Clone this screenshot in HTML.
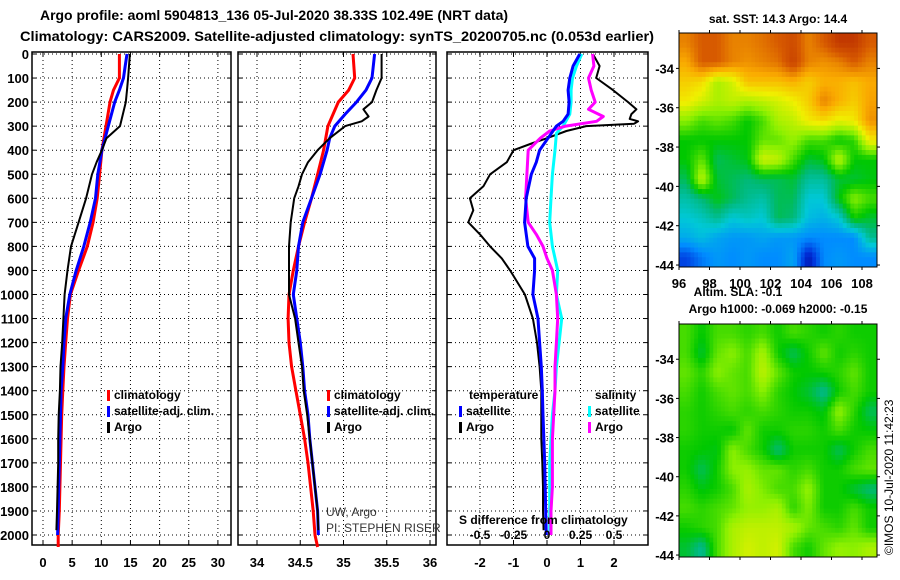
<!DOCTYPE html>
<html><head><meta charset="utf-8"><style>
html,body{margin:0;padding:0;background:#fff}
svg{display:block;font-family:"Liberation Sans",sans-serif}
</style></head><body>
<svg id="c" width="900" height="580" viewBox="0 0 900 580">
<text x="274" y="20" text-anchor="middle" font-size="14" font-weight="bold" textLength="468" lengthAdjust="spacingAndGlyphs">Argo profile: aoml 5904813_136 05-Jul-2020 38.33S 102.49E (NRT data)</text>
<text x="337" y="41" text-anchor="middle" font-size="14" font-weight="bold" textLength="634" lengthAdjust="spacingAndGlyphs">Climatology: CARS2009. Satellite-adjusted climatology: synTS_20200705.nc (0.053d earlier)</text>
<g id="g"></g>
</svg>
<script>
// ---- data ----
const depT = [0,100,150,200,300,400,500,600,700,800,900,1000,1100,1200,1300,1400,1500,1600,1700,1800,1900,2000,2050];
const tClim = [13.1,13.1,12.1,11.5,10.8,10.1,9.7,9.3,8.6,7.6,6.1,4.7,4.2,3.9,3.6,3.4,3.2,3.1,3.0,2.9,2.8,2.6,2.6];
const depTs = [0,50,100,150,200,300,400,500,600,700,800,900,1000,1100,1200,1300,1400,1500,1600,1700,1800,1900,2000];
const tSat = [14.4,14.1,13.8,13.1,12.3,11.2,10.1,9.4,9.0,8.1,7.0,5.7,4.6,3.9,3.6,3.4,3.1,3.0,2.9,2.8,2.7,2.6,2.5];
const depTa = [0,100,150,200,250,300,350,400,450,500,600,700,800,900,1000,1100,1200,1300,1400,1500,1600,1700,1800,1900,1980];
const tArgo = [14.9,14.6,14.4,14.2,13.7,13.2,10.9,10.1,9.2,8.4,7.4,6.1,4.8,4.2,3.7,3.5,3.3,3.0,2.9,2.7,2.6,2.6,2.5,2.4,2.3];

const depS = [0,100,150,200,300,400,500,600,700,800,900,1000,1100,1200,1300,1400,1500,1600,1700,1800,1900,2000,2050];
const sClim = [35.11,35.13,35.06,34.94,34.82,34.77,34.70,34.63,34.55,34.48,34.42,34.37,34.36,34.37,34.40,34.45,34.50,34.55,34.59,34.62,34.65,34.67,34.70];
const depSs = [0,100,150,200,250,300,350,400,500,600,700,800,900,1000,1100,1200,1300,1400,1500,1600,1700,1800,1900,2000];
const sSat = [35.36,35.33,35.26,35.15,35.02,34.90,34.84,34.81,34.73,34.63,34.53,34.48,34.46,34.42,34.46,34.50,34.53,34.55,34.59,34.61,34.64,34.67,34.70,34.71];
const depSa = [0,100,150,200,230,260,280,300,350,400,450,500,550,600,700,800,900,1000,1100,1200,1300,1400,1500,1600,1700,1800,1900,1980];
const sArgo = [35.44,35.44,35.38,35.33,35.23,35.29,35.21,35.02,34.84,34.70,34.59,34.52,34.48,34.43,34.39,34.37,34.37,34.37,34.44,34.48,34.52,34.54,34.58,34.61,34.64,34.67,34.70,34.71];

const depDa = [0,50,100,150,200,230,250,270,280,290,300,320,350,370,400,450,500,550,600,650,700,750,800,850,900,1000,1100,1200,1300,1400,1500,1600,1700,1800,1900,1980];
const dTArgo = [1.37,1.57,1.47,1.97,2.42,2.67,2.52,2.47,2.72,2.6,1.17,0.58,0,-0.42,-1.0,-1.2,-1.7,-1.9,-2.3,-2.2,-2.35,-2.0,-1.7,-1.35,-1.1,-0.66,-0.42,-0.3,-0.22,-0.17,-0.17,-0.17,-0.14,-0.12,-0.12,-0.1];
const depDs = [0,50,100,150,200,250,280,300,350,400,450,500,600,700,800,850,900,1000,1100,1200,1300,1400,1500,1700,1900,2000];
const dTSat = [0.98,0.78,0.68,0.63,0.66,0.63,0.48,0.28,0.03,-0.22,-0.32,-0.47,-0.62,-0.67,-0.57,-0.37,-0.37,-0.42,-0.27,-0.22,-0.17,-0.14,-0.12,-0.07,-0.04,-0.02];
const depSd = [0,50,100,150,200,230,260,280,300,320,350,400,500,600,650,700,750,800,850,900,1000,1100,1200,1300,1400,1600,1800,1900,2000];
const dSArgo = [0.34,0.35,0.31,0.33,0.36,0.31,0.42,0.37,0.14,0.02,-0.05,-0.14,-0.15,-0.16,-0.15,-0.14,-0.08,-0.03,0,0.04,0.07,0.08,0.07,0.06,0.06,0.04,0.04,0.03,0.03];
const depSds = [0,50,100,150,200,250,300,330,400,500,600,700,800,900,1000,1100,1200,1300,1400,1500,1600,1700,1800,1900,2000];
const dSSat = [0.26,0.22,0.19,0.18,0.18,0.17,0.12,0.07,0.06,0.04,0.03,0.02,0.04,0.08,0.07,0.11,0.09,0.07,0.06,0.04,0.03,0.02,0.02,0.02,0.02];

const depthTicks = [0,100,200,300,400,500,600,700,800,900,1000,1100,1200,1300,1400,1500,1600,1700,1800,1900,2000];
const tTicks = [0,5,10,15,20,25,30];
const sTicks = [34,34.5,35,35.5,36];
const sTickLabels = ["34","34.5","35","35.5","36"];
const dTicks = [-2,-1,0,1,2];
const dSTicks = [-0.5,-0.25,0,0.25,0.5];
const dSTickLabels = ["-0.5","-0.25","0","0.25","0.5"];
const latTicks = [-34,-36,-38,-40,-42,-44];
const lonTicks = [96,98,100,102,104,106,108];

const sstGrid = [
[.8,.85,.85,.8,.8,.82,.85,.88,.8,.85,.92,.92,.85],
[.75,.85,.85,.8,.78,.8,.82,.9,.8,.78,.8,.85,.8],
[.7,.68,.58,.62,.72,.72,.72,.74,.7,.74,.74,.72,.75],
[.66,.62,.58,.6,.58,.6,.62,.65,.7,.8,.74,.7,.76],
[.55,.5,.52,.5,.45,.5,.58,.6,.66,.68,.64,.66,.78],
[.45,.45,.45,.45,.45,.52,.52,.56,.5,.5,.45,.48,.66],
[.45,.52,.4,.42,.44,.62,.6,.5,.42,.44,.6,.45,.45],
[.4,.6,.42,.4,.38,.4,.4,.42,.35,.35,.42,.42,.44],
[.34,.38,.44,.4,.36,.34,.4,.4,.3,.3,.44,.55,.5],
[.3,.32,.36,.3,.32,.3,.4,.38,.28,.26,.3,.46,.42],
[.25,.28,.24,.22,.22,.24,.22,.22,.2,.2,.2,.2,.36],
[.12,.18,.22,.2,.22,.2,.2,.24,.05,.2,.22,.2,.2]];
const slaGrid = [
[.5,.45,.5,.5,.48,.5,.46,.5,.48,.46,.48,.46,.46],
[.5,.42,.52,.55,.5,.58,.46,.4,.46,.52,.46,.48,.46],
[.52,.48,.55,.52,.5,.6,.52,.46,.45,.46,.48,.52,.46],
[.5,.46,.5,.52,.5,.55,.48,.45,.42,.36,.46,.5,.46],
[.48,.46,.48,.5,.48,.5,.48,.46,.46,.44,.56,.48,.4],
[.48,.46,.46,.45,.52,.46,.46,.48,.48,.46,.5,.46,.45],
[.46,.45,.44,.55,.5,.46,.38,.46,.46,.46,.4,.46,.5],
[.46,.4,.46,.55,.56,.52,.52,.48,.5,.46,.46,.5,.52],
[.48,.44,.46,.5,.58,.54,.5,.5,.56,.46,.46,.42,.38],
[.5,.48,.5,.52,.56,.56,.58,.48,.54,.46,.46,.5,.46],
[.46,.48,.5,.58,.6,.6,.6,.58,.52,.5,.48,.52,.46],
[.42,.36,.5,.58,.62,.6,.62,.5,.46,.52,.56,.55,.58]];

// ---- helpers ----
const NS="http://www.w3.org/2000/svg";
const G=document.getElementById('g');
function mk(tag,attrs,parent){const e=document.createElementNS(NS,tag);for(const k in attrs)e.setAttribute(k,attrs[k]);(parent||G).appendChild(e);return e;}
const yD = d => 54 + d*0.2405;
const bottomY = 545;
const topY = 52;

function panel(x0,x1,name,xTicks,xs,labels){
  const g=mk('g',{});
  
  
  depthTicks.forEach(d=>{const l=mk('line',{x1:x0,x2:x1,y1:yD(d),y2:yD(d),stroke:'#000','stroke-width':1,'stroke-dasharray':'1,3'},g);
    
    
    mk('line',{x1:x0,x2:x0+4,y1:yD(d),y2:yD(d),stroke:'#000'},g);mk('line',{x1:x1-4,x2:x1,y1:yD(d),y2:yD(d),stroke:'#000'},g);});
  xTicks.forEach((t,i)=>{const x=xs(t);
    const l=mk('line',{x1:x,x2:x,y1:topY,y2:bottomY,stroke:'#000','stroke-width':1,'stroke-dasharray':'1,3'},g);
    
    
    mk('line',{x1:x,x2:x,y1:bottomY,y2:bottomY-4,stroke:'#000'},g);mk('line',{x1:x,x2:x,y1:topY,y2:topY+4,stroke:'#000'},g);
    const tx=mk('text',{x:x,y:567,'text-anchor':'middle','font-size':13,'font-weight':'bold'},g);tx.textContent=labels?labels[i]:String(t);
    
    });
  const r=mk('rect',{x:x0,y:topY,width:x1-x0,height:bottomY-topY,fill:'none',stroke:'#000','stroke-width':1.5},g);
  
  
  return g;
}
function line(g,deps,vals,xs,color,w,name){
  const pts=deps.map((d,i)=>xs(vals[i]).toFixed(1)+','+yD(d).toFixed(1));
  const p=mk('polyline',{points:pts.join(' '),fill:'none',stroke:color,'stroke-width':w,'stroke-linejoin':'round'},g);
  
  
}
function legend(g,x,y,color,label,name){
  mk('rect',{x:x,y:y-9,width:3,height:11,fill:color},g);
  const t=mk('text',{x:x+7,y:y,'font-size':12,'font-weight':'bold'},g);t.textContent=label;
  
  
}

// depth labels
depthTicks.forEach(d=>{const t=mk('text',{x:29,y:yD(d)+5,'text-anchor':'end','font-size':13,'font-weight':'bold'});t.textContent=d;
  
  });

// panel 1 temperature
const xT = v => 43 + v*5.83;
const p1=panel(32,231,'temperature-panel',tTicks,xT);
line(p1,depT,tClim,xT,'#f00',3,'temp-climatology-line');
line(p1,depTs,tSat,xT,'#00f',3,'temp-satellite-line');
line(p1,depTa,tArgo,xT,'#000',2,'temp-argo-line');
legend(p1,107,399,'#f00','climatology','legend-climatology');
legend(p1,107,415,'#00f','satellite-adj. clim.','legend-satellite');
legend(p1,107,431,'#000','Argo','legend-argo');

// panel 2 salinity
const xS = v => 257 + (v-34)*86.5;
const p2=panel(238,436,'salinity-panel',sTicks,xS,sTickLabels);
line(p2,depS,sClim,xS,'#f00',3,'sal-climatology-line');
line(p2,depSs,sSat,xS,'#00f',3,'sal-satellite-line');
line(p2,depSa,sArgo,xS,'#000',2,'sal-argo-line');
legend(p2,327,399,'#f00','climatology','legend-climatology-2');
legend(p2,327,415,'#00f','satellite-adj. clim.','legend-satellite-2');
legend(p2,327,431,'#000','Argo','legend-argo-2');
[['UW, Argo',516],['PI: STEPHEN RISER',532]].forEach(a=>{const t=mk('text',{x:326,y:a[1],'font-size':12,fill:'#333'},p2);t.textContent=a[0];
  
  });

// panel 3 differences
const xDT = v => 547 + v*33.5;
const xDS = v => 547 + v*134;
const p3=panel(447,648,'difference-panel',dTicks,xDT);
line(p3,depDa,dTArgo,xDT,'#000',2,'tdiff-argo-line');
line(p3,depSds,dSSat,xDS,'#0ff',3,'sdiff-satellite-line');
line(p3,depSd,dSArgo,xDS,'#f0f',3,'sdiff-argo-line');
line(p3,depDs,dTSat,xDT,'#00f',3,'tdiff-satellite-line');
{const t=mk('text',{x:469,y:399,'font-size':12,'font-weight':'bold'},p3);t.textContent='temperature';
 
 
 const s=mk('text',{x:595,y:399,'font-size':12,'font-weight':'bold'},p3);s.textContent='salinity';
 
 }
legend(p3,459,415,'#00f','satellite','legend-t-satellite');
legend(p3,459,431,'#000','Argo','legend-t-argo');
legend(p3,588,415,'#0ff','satellite','legend-s-satellite');
legend(p3,588,431,'#f0f','Argo','legend-s-argo');
{const t=mk('text',{x:459,y:524,'font-size':12,'font-weight':'bold'},p3);t.textContent='S difference from climatology';
 
 }
dSTicks.forEach((v,i)=>{const t=mk('text',{x:xDS(v),y:539,'text-anchor':'middle','font-size':12,'font-weight':'bold'},p3);t.textContent=dSTickLabels[i];
 
 });

// maps
const stops=[[0,[0,0,140]],[.1,[0,50,220]],[.2,[0,140,255]],[.3,[0,200,215]],[.38,[0,185,120]],[.45,[0,200,0]],[.55,[140,240,0]],[.65,[240,240,0]],[.75,[250,170,0]],[.85,[215,90,0]],[1,[170,20,0]]];
function cmap(v){v=Math.max(0,Math.min(1,v));for(let i=1;i<stops.length;i++){if(v<=stops[i][0]){const a=stops[i-1],b=stops[i],f=(v-a[0])/(b[0]-a[0]);
  return 'rgb('+a[1].map((c,k)=>Math.round(c+(b[1][k]-c)*f)).join(',')+')';}}return 'rgb(170,20,0)';}
function drawMap(grid,x0,y0,x1,y1,name,labelLon){
  const g=mk('g',{});
  
  
  const R=grid.length,C=grid[0].length,sub=4,nx=C*sub,ny=R*sub,cw=(x1-x0)/nx,ch=(y1-y0)/ny;
  for(let j=0;j<ny;j++)for(let i=0;i<nx;i++){
    const fx=Math.max(0,Math.min(C-1,(i+.5)/sub-.5)),fy=Math.max(0,Math.min(R-1,(j+.5)/sub-.5));
    const ix=Math.min(C-2,Math.floor(fx)),iy=Math.min(R-2,Math.floor(fy)),tx=fx-ix,ty=fy-iy;
    const v=grid[iy][ix]*(1-tx)*(1-ty)+grid[iy][ix+1]*tx*(1-ty)+grid[iy+1][ix]*(1-tx)*ty+grid[iy+1][ix+1]*tx*ty;
    mk('rect',{x:(x0+i*cw).toFixed(2),y:(y0+j*ch).toFixed(2),width:(cw+.4).toFixed(2),height:(ch+.4).toFixed(2),fill:cmap(v)},g);}
  mk('rect',{x:x0,y:y0,width:x1-x0,height:y1-y0,fill:'none',stroke:'#000','stroke-width':1},g);
  const latY=l=>y0+ (-32.2-l)*(y1-y0)/11.9;
  const lonX=l=>x0+(l-96)*15.25;
  latTicks.forEach(l=>{const y=latY(l);mk('line',{x1:x0-3,x2:x0,y1:y,y2:y,stroke:'#000'},g);mk('line',{x1:x1,x2:x1+3,y1:y,y2:y,stroke:'#000'},g);
    const t=mk('text',{x:x0-5,y:y+5,'text-anchor':'end','font-size':13,'font-weight':'bold'},g);t.textContent=l;
    
    });
  lonTicks.forEach(l=>{const x=lonX(l);mk('line',{x1:x,x2:x,y1:y0-3,y2:y0,stroke:'#000'},g);mk('line',{x1:x,x2:x,y1:y1,y2:y1+3,stroke:'#000'},g);
    if(labelLon){const t=mk('text',{x:x,y:y1+21,'text-anchor':'middle','font-size':13,'font-weight':'bold'},g);t.textContent=l;
    
    }});
}
drawMap(sstGrid,679,33,877,267,'sst-map',true);
drawMap(slaGrid,679,324,877,557,'sla-map',false);
[['sat. SST: 14.3 Argo: 14.4',778,23,'sst-map-title'],['Altim. SLA: -0.1',738,296,'sla-title'],['Argo h1000: -0.069 h2000: -0.15',778,313,'argo-height-title']].forEach(a=>{
  const t=mk('text',{x:a[1],y:a[2],'text-anchor':'middle','font-size':12,'font-weight':'bold'});t.textContent=a[0];
  
  });
{const t=mk('text',{x:0,y:0,'font-size':12,transform:'translate(893,555) rotate(-90)'});t.textContent='©IMOS 10-Jul-2020 11:42:23';
 
 }
</script>
</body></html>
